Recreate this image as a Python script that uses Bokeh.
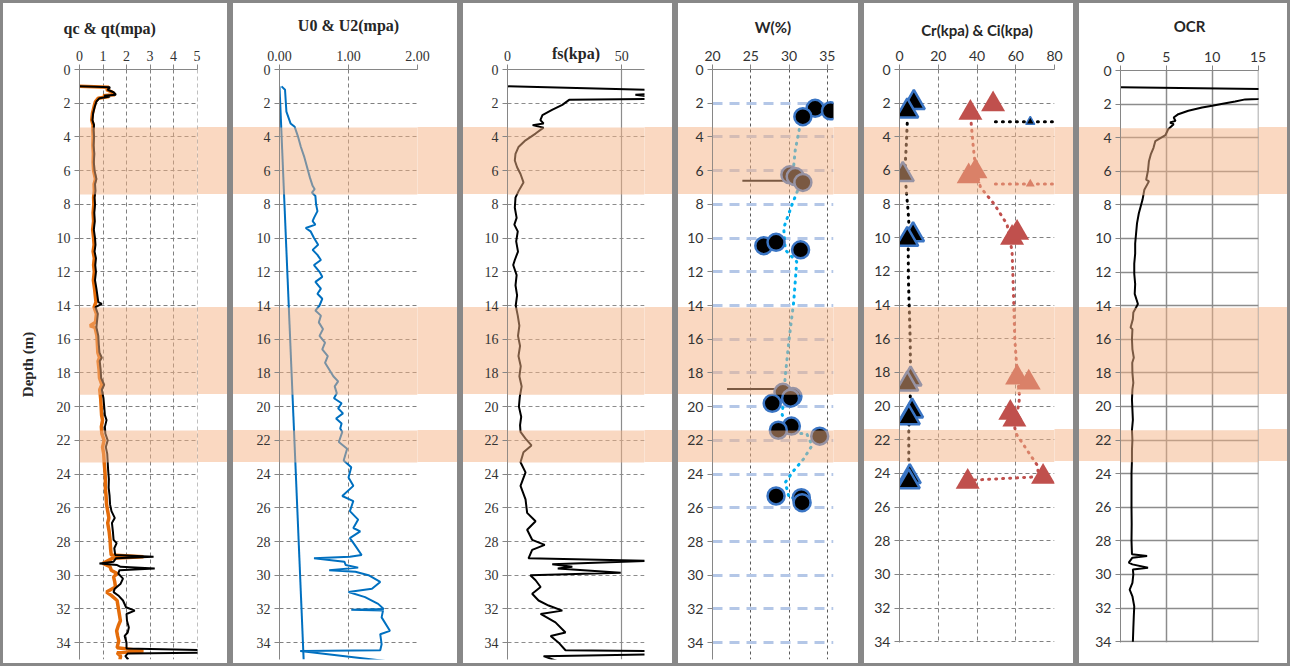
from bokeh.plotting import figure
from bokeh.models import Range1d, FixedTicker, PrintfTickFormatter, BoxAnnotation
from bokeh.layouts import row
from bokeh.embed import file_html
from bokeh.resources import INLINE

# ---------------- data ----------------
depth_ticks = list(range(0, 35, 2))
band_depths = [(3.44, 7.42), (14.12, 19.29), (21.42, 23.32)]

qc_ticks = [0, 1, 2, 3, 4, 5]
u_ticks = [0, 1, 2]
fs_ticks = [0, 50]
w_ticks = [20, 25, 30, 35]
c_ticks = [0, 20, 40, 60, 80]
ocr_ticks = [0, 5, 10, 15]

# (value, depth)
qt = [(0.0, 1.0), (1.3, 1.05), (1.2, 1.2), (1.45, 1.35), (1.55, 1.5), (1.05, 1.55), (1.3, 1.6),
      (0.85, 1.7), (0.72, 1.9), (0.65, 2.2), (0.58, 2.6), (0.55, 3.0), (0.62, 3.3), (0.6, 3.6),
      (0.62, 4.0), (0.6, 4.5), (0.63, 5.0), (0.61, 5.5), (0.64, 6.0), (0.72, 6.5), (0.66, 6.8),
      (0.68, 7.2), (0.64, 7.6), (0.66, 8.0), (0.63, 8.5), (0.65, 9.0), (0.61, 9.5), (0.66, 10.0),
      (0.68, 10.4), (0.64, 10.8), (0.7, 11.2), (0.67, 11.6), (0.7, 12.0), (0.66, 12.5), (0.72, 13.0),
      (0.76, 13.4), (0.8, 13.8), (0.95, 13.9), (0.68, 14.1), (0.78, 14.5), (0.74, 15.0), (0.72, 15.3),
      (0.8, 15.8), (0.82, 16.3), (0.85, 16.8), (0.95, 17.1), (0.86, 17.3), (0.9, 17.8), (0.92, 18.3),
      (1.05, 18.7), (0.95, 19.0), (1.02, 19.5), (1.05, 20.0), (1.08, 20.5), (1.15, 20.8), (1.08, 21.2),
      (1.1, 21.6), (1.2, 22.0), (1.12, 22.4), (1.18, 22.8), (1.2, 23.3), (1.22, 23.8), (1.25, 24.3),
      (1.24, 24.8), (1.28, 25.3), (1.3, 25.8), (1.36, 26.2), (1.5, 26.6), (1.38, 26.9), (1.42, 27.4),
      (1.45, 27.9), (1.58, 28.1), (1.48, 28.4), (1.52, 28.8), (3.15, 28.9), (1.55, 29.0), (1.45, 29.2),
      (0.85, 29.3), (1.6, 29.4), (1.75, 29.5), (3.2, 29.6), (1.7, 29.7), (1.65, 29.9), (1.85, 30.2),
      (1.75, 30.5), (1.5, 30.8), (1.45, 31.0), (1.65, 31.2), (1.85, 31.5), (1.98, 31.9), (2.35, 32.1),
      (2.0, 32.3), (2.02, 32.7), (2.1, 33.1), (2.05, 33.4), (1.92, 33.6), (2.0, 34.0), (2.0, 34.35),
      (5.5, 34.45), (5.5, 34.6), (2.05, 34.65), (1.95, 34.8), (2.08, 35.0)]

qc = [(0.0, 1.0), (1.25, 1.05), (1.15, 1.2), (1.4, 1.35), (1.5, 1.5), (1.0, 1.55), (1.25, 1.6),
      (0.8, 1.7), (0.68, 1.9), (0.62, 2.2), (0.55, 2.6), (0.52, 3.0), (0.58, 3.3), (0.57, 3.6),
      (0.58, 4.0), (0.57, 4.5), (0.59, 5.0), (0.58, 5.5), (0.6, 6.0), (0.68, 6.5), (0.62, 6.8),
      (0.63, 7.2), (0.6, 7.6), (0.61, 8.0), (0.58, 8.5), (0.6, 9.0), (0.56, 9.5), (0.6, 10.0),
      (0.62, 10.4), (0.58, 10.8), (0.63, 11.2), (0.6, 11.6), (0.63, 12.0), (0.59, 12.5), (0.64, 13.0),
      (0.67, 13.4), (0.7, 13.8), (0.62, 14.1), (0.72, 14.5), (0.68, 15.0), (0.45, 15.2), (0.66, 15.3),
      (0.74, 15.8), (0.76, 16.3), (0.78, 16.8), (0.85, 17.1), (0.79, 17.3), (0.83, 17.8), (0.85, 18.3),
      (0.95, 18.7), (0.86, 19.0), (0.9, 19.5), (0.92, 20.0), (0.94, 20.5), (0.98, 20.8), (0.93, 21.2),
      (0.95, 21.6), (1.05, 22.0), (0.98, 22.4), (1.03, 22.8), (1.05, 23.3), (1.08, 23.8), (1.1, 24.3),
      (1.1, 24.8), (1.13, 25.3), (1.15, 25.8), (1.2, 26.2), (1.25, 26.6), (1.2, 26.9), (1.26, 27.4),
      (1.3, 27.9), (1.32, 28.4), (1.35, 28.8), (2.72, 28.9), (1.4, 29.0), (1.0, 29.3), (1.3, 29.5),
      (1.35, 29.7), (1.6, 29.9), (1.45, 30.1), (1.5, 30.4), (1.53, 30.7), (1.15, 31.0), (1.35, 31.2),
      (1.6, 31.5), (1.67, 32.1), (1.74, 32.7), (1.65, 33.0), (1.58, 33.3), (1.62, 33.6), (1.67, 33.9),
      (1.6, 34.3), (2.72, 34.5), (1.6, 34.6), (1.75, 34.8), (1.72, 35.0)]

u2 = [(0.03, 1.0), (0.08, 1.2), (0.1, 2.5), (0.16, 3.2), (0.22, 3.4), (0.27, 4.0), (0.31, 4.6),
      (0.36, 5.2), (0.4, 5.8), (0.44, 6.4), (0.48, 6.9), (0.51, 7.1), (0.47, 7.3), (0.52, 7.5),
      (0.53, 8.0), (0.55, 8.4), (0.5, 8.8), (0.48, 9.0), (0.52, 9.2), (0.38, 9.4), (0.45, 9.6),
      (0.5, 10.0), (0.56, 10.4), (0.48, 10.7), (0.55, 11.0), (0.6, 11.3), (0.5, 11.6), (0.58, 12.0),
      (0.62, 12.3), (0.52, 12.6), (0.6, 13.0), (0.55, 13.3), (0.62, 13.6), (0.58, 14.0), (0.52, 14.3),
      (0.6, 14.6), (0.57, 15.0), (0.63, 15.4), (0.58, 15.8), (0.66, 16.2), (0.62, 16.6), (0.7, 17.0),
      (0.66, 17.4), (0.72, 17.8), (0.78, 18.2), (0.85, 18.5), (0.8, 18.8), (0.83, 19.2), (0.79, 19.5),
      (0.9, 19.8), (0.85, 20.1), (0.92, 20.4), (0.82, 20.7), (0.9, 21.0), (0.88, 21.3), (0.91, 21.5),
      (0.86, 22.1), (0.98, 22.5), (0.93, 23.2), (1.04, 23.6), (1.0, 24.2), (1.07, 24.7), (0.91, 25.3),
      (1.07, 25.6), (1.02, 26.2), (1.14, 26.7), (1.07, 27.2), (1.17, 27.4), (1.02, 27.8), (1.09, 28.2),
      (1.19, 28.8), (1.02, 28.9), (0.5, 29.0), (0.94, 29.2), (0.96, 29.4), (1.14, 29.55), (0.72, 29.7),
      (1.1, 29.8), (1.29, 30.0), (1.46, 30.4), (1.34, 30.8), (1.0, 31.0), (1.24, 31.3), (1.43, 31.7),
      (1.51, 32.0), (1.04, 32.05), (1.5, 32.1), (1.48, 32.5), (1.6, 33.3), (1.46, 33.5), (1.48, 34.1),
      (1.46, 34.45), (0.3, 34.5), (1.56, 35.1)]
u0 = [(0.0, 1.0), (0.35, 35.0)]

fs = [(0, 1.0), (62, 1.2), (62, 1.45), (56, 1.5), (62, 1.6), (62, 1.75), (27, 1.8), (24, 2.1),
      (19.5, 2.4), (15.3, 2.7), (14.4, 3.0), (15.8, 3.2), (11, 3.3), (15.8, 3.45), (12.3, 3.8),
      (7.9, 4.2), (4.8, 4.6), (3.5, 5.0), (3.2, 5.4), (4.2, 5.8), (5.7, 6.2), (7.0, 6.7), (4.9, 7.2),
      (3.5, 7.6), (3.2, 8.2), (4.0, 8.8), (3.0, 9.2), (4.5, 9.6), (3.8, 10.2), (4.6, 10.8), (3.2, 11.3),
      (2.5, 11.6), (4.0, 12.2), (3.5, 12.8), (4.2, 13.4), (3.6, 14.0), (4.5, 14.6), (5.2, 15.2),
      (4.6, 15.8), (5.5, 16.4), (4.8, 17.0), (5.8, 17.6), (5.2, 18.2), (6.2, 18.8), (5.4, 19.4),
      (5.0, 20.0), (6.0, 20.6), (5.5, 21.1), (5.7, 21.5), (7.9, 21.9), (10.5, 22.3), (7.0, 22.7),
      (5.7, 23.3), (7.9, 23.9), (5.7, 24.7), (7.9, 25.5), (8.6, 26.3), (12.3, 26.8), (8.6, 27.3),
      (10.8, 27.9), (16.3, 28.2), (10.8, 28.5), (9.2, 29.0), (62, 29.15), (19.6, 29.35), (28.4, 29.5),
      (22, 29.6), (49.6, 29.85), (10, 30.0), (12.3, 30.3), (14.5, 30.7), (10.8, 31.1), (13.6, 31.5),
      (18, 31.8), (24, 32.1), (14.5, 32.3), (21, 32.8), (25.4, 33.4), (18.9, 33.6), (22.4, 34.0),
      (25.4, 34.45), (62, 34.5), (62, 34.7), (15.8, 34.8), (24, 35.2)]

w_points = [(33.4, 2.3), (35.4, 2.45), (31.8, 2.8), (30.1, 6.25), (30.8, 6.35), (31.8, 6.7),
            (26.7, 10.45), (28.3, 10.25), (31.5, 10.7), (29.2, 19.15), (30.5, 19.4), (27.8, 19.8),
            (30.2, 19.5), (30.3, 21.15), (28.6, 21.4), (34.0, 21.75), (28.3, 25.3), (31.6, 25.4),
            (31.7, 25.7)]
w_trend = [(31.5, 3.15), (30.8, 4.8), (30.5, 6.2), (31.1, 7.2), (30.4, 8.0), (29.3, 9.4), (29.5, 10.7),
           (31.0, 11.4), (30.6, 13.8), (30.0, 16.0), (29.5, 18.2), (29.1, 20.5), (31.1, 21.6),
           (32.3, 21.6), (33.0, 22.3), (31.9, 23.1), (30.6, 23.8), (29.5, 24.5), (30.0, 25.4), (31.2, 25.4)]
w_bar_a = [(23.9, 6.6), (30.0, 6.6)]
w_bar_b = [(21.9, 18.96), (28.3, 18.96)]

cr_points = [(7.4, 1.97), (4.0, 2.47), (1.7, 6.25), (7.0, 9.83), (4.0, 10.1), (5.7, 18.4), (4.0, 18.7),
             (6.5, 20.3), (4.8, 20.7), (5.3, 24.2), (4.8, 24.5)]
ci_points = [(36.6, 2.57), (48.3, 2.07), (35.7, 6.35), (39.2, 6.05), (58.1, 10.0), (60.7, 9.7),
             (60.7, 18.3), (66.7, 18.6), (57.2, 20.4), (59.3, 20.8), (74.1, 24.2), (35.2, 24.5)]
cr_trend = [(4.0, 3.2), (3.5, 4.5), (2.8, 6.0), (3.5, 7.2), (4.5, 8.5), (5.0, 9.5), (4.5, 10.7),
            (4.6, 12.5), (5.0, 14.0), (5.5, 16.0), (5.7, 18.2), (5.5, 20.0), (4.8, 21.3), (4.8, 23.5)]
ci_trend = [(37.0, 3.2), (38.0, 4.5), (39.2, 5.8), (41.8, 7.0), (48.9, 8.0), (55.5, 9.2), (58.1, 10.8),
            (58.6, 12.5), (59.0, 14.0), (59.5, 16.0), (60.7, 18.0), (62.0, 19.5), (59.5, 21.3),
            (60.5, 21.7), (71.0, 23.5), (72.0, 24.2), (38.0, 24.4)]
cr_bar = [(49.5, 3.1), (83.0, 3.1)]
ci_bar = [(49.5, 6.8), (83.0, 6.8)]
cr_mark = [(67.5, 3.1)]
ci_mark = [(67.5, 6.8)]

ocr = [(0, 1.0), (16, 1.1), (16, 1.65), (15, 1.7), (13.6, 1.72), (12.5, 1.85), (11.0, 2.0), (10.0, 2.1),
       (8.9, 2.2), (7.4, 2.4), (6.3, 2.6), (5.8, 2.8), (6.0, 3.0), (5.4, 3.1), (5.8, 3.2), (5.2, 3.5),
       (4.9, 3.85), (3.8, 4.2), (3.6, 4.6), (3.3, 5.0), (3.1, 5.4), (3.0, 5.95), (2.8, 6.5), (3.1, 6.6),
       (2.6, 7.1), (2.4, 7.7), (2.0, 8.5), (1.8, 9.1), (1.7, 9.7), (1.6, 10.3), (1.6, 10.9), (1.5, 11.5),
       (1.5, 12.1), (1.6, 12.7), (1.55, 13.3), (1.9, 13.9), (1.4, 14.4), (1.35, 14.8), (1.1, 15.3),
       (1.3, 15.4), (1.25, 16.0), (1.3, 16.6), (1.45, 17.1), (1.28, 17.4), (1.3, 18.0), (1.4, 18.6),
       (1.3, 19.0), (1.25, 19.6), (1.3, 20.2), (1.35, 20.8), (1.25, 21.4), (1.3, 22.0), (1.25, 22.6),
       (1.25, 23.2), (1.2, 24.0), (1.2, 25.0), (1.2, 26.0), (1.22, 27.0), (1.2, 28.0), (1.25, 28.8),
       (2.9, 28.9), (1.3, 29.0), (0.9, 29.3), (1.3, 29.4), (3.0, 29.6), (1.35, 29.7), (1.4, 30.0),
       (1.3, 30.5), (1.0, 30.9), (1.3, 31.3), (1.5, 31.9), (1.45, 32.5), (1.4, 33.2), (1.35, 34.0)]

# ---------------- styling / layout ----------------
H = 666
TOP = 69
SERIF = "Liberation Serif"
SANS = "Lato"
TXT = "#333333"
AX = "#868686"
BAND_RGBA = "rgb(250,216,193)"


def xs(pairs):
    return [a for a, b in pairs]


def ys(pairs):
    return [b for a, b in pairs]


def band_styles(W, L, B, ymax, from_axis):
    fh = H - TOP - B
    stops = ["rgba(255,255,255,0) 0px"]
    for b0, b1 in band_depths:
        y0 = TOP + b0 / ymax * fh
        y1 = TOP + b1 / ymax * fh
        stops += [f"rgba(255,255,255,0) {y0:.1f}px", f"{BAND_RGBA} {y0:.1f}px",
                  f"{BAND_RGBA} {y1:.1f}px", f"rgba(255,255,255,0) {y1:.1f}px"]
    st = {
        "background-image": "linear-gradient(to bottom, " + ", ".join(stops) + ")",
        "background-repeat": "no-repeat",
        "background-size": f"{(W - L) if from_axis else W}px {H}px",
        "background-position": "right top",
        "outline": "3px solid #888888",
        "outline-offset": "-3px",
    }
    return st


def panel(W, L, R, B, xr, ymax, xticks, font, fmt=None, band_from_axis=False):
    p = figure(width=W, height=H, x_range=Range1d(*xr), y_range=Range1d(ymax, 0),
               x_axis_location="above", output_backend="svg", toolbar_location=None,
               min_border_left=L, min_border_right=R, min_border_top=TOP, min_border_bottom=B,
               frame_align=False, styles=band_styles(W, L, B, ymax, band_from_axis))
    p.outline_line_color = None
    p.background_fill_color = "white"
    p.border_fill_color = None
    for ax, ticks in ((p.xaxis[0], xticks), (p.yaxis[0], depth_ticks)):
        ax.ticker = FixedTicker(ticks=ticks)
        ax.major_label_text_font = font
        ax.major_label_text_font_size = "14px"
        ax.major_label_text_color = TXT
        ax.axis_line_color = AX
        ax.major_tick_line_color = AX
        ax.major_tick_in = 0
        ax.major_tick_out = 5
        ax.minor_tick_line_color = None
        ax.major_label_standoff = 4
    if fmt:
        p.xaxis[0].formatter = PrintfTickFormatter(format=fmt)
    return p


def finish(p, title, tfont, tsize, standoff=10, align="center", offset=0):
    if title:
        p.title.text = title
        p.title.align = align
        p.title.offset = offset
        p.title.standoff = standoff
        p.title.text_font = tfont
        p.title.text_font_size = tsize
        p.title.text_font_style = "bold"
        p.title.text_color = "#262626"
    for b0, b1 in band_depths:
        p.add_layout(BoxAnnotation(top=b0, bottom=b1, fill_color="#F4B183", fill_alpha=0.5,
                                   line_color=None))


def dashed_grid(p, color="#808080"):
    for g in (p.xgrid[0], p.ygrid[0]):
        g.grid_line_color = color
        g.grid_line_dash = "4 3"
        g.grid_line_width = 1


# Panel 1: qc & qt
p1 = panel(230, 79, 33, 7, (0, 5.02), 35, qc_ticks, SERIF, band_from_axis=True)
dashed_grid(p1)
p1.yaxis[0].axis_label = "Depth (m)"
p1.yaxis[0].axis_label_text_font = SERIF
p1.yaxis[0].axis_label_text_font_style = "bold"
p1.yaxis[0].axis_label_text_font_size = "15px"
p1.yaxis[0].axis_label_text_color = "#262626"
p1.yaxis[0].axis_label_standoff = 18
p1.line(xs(qc), ys(qc), line_color="#E46C0A", line_width=3.5)
p1.line(xs(qt), ys(qt), line_color="black", line_width=2)
finish(p1, "qc & qt(mpa)", SERIF, "16px", standoff=22, align="left", offset=-16)

# Panel 2: U0 & U2
p2 = panel(230, 49, 43, 7, (0, 2.0), 35, u_ticks, SERIF, fmt="%.2f")
dashed_grid(p2)
p2.line(xs(u0), ys(u0), line_color="#0070C0", line_width=2)
p2.line(xs(u2), ys(u2), line_color="#0070C0", line_width=2)
finish(p2, "U0 & U2(mpa)", SERIF, "16px", standoff=27)

# Panel 3: fs
p3 = panel(215, 47, 31, 7, (0, 60), 35, fs_ticks, SERIF)
p3.xgrid[0].grid_line_color = "#8c8c8c"
p3.xgrid[0].grid_line_width = 1.2
p3.ygrid[0].grid_line_color = "#8c8c8c"
p3.ygrid[0].grid_line_dash = "4 3"
p3.xaxis[0].axis_label = "fs(kpa)"
p3.xaxis[0].axis_label_text_font = SERIF
p3.xaxis[0].axis_label_text_font_style = "bold"
p3.xaxis[0].axis_label_text_font_size = "16px"
p3.xaxis[0].axis_label_text_color = "#262626"
p3.xaxis[0].axis_label_standoff = -14
p3.line(xs(fs), ys(fs), line_color="black", line_width=2)
finish(p3, None, SERIF, "16px")

# Panel 4: W(%)
p4 = panel(186, 37, 28, 7, (20, 35.8), 35, w_ticks, SANS)
p4.xgrid[0].grid_line_color = "#595959"
p4.xgrid[0].grid_line_dash = "3 3"
p4.ygrid[0].grid_line_color = "#B4C7E7"
p4.ygrid[0].grid_line_width = 3
p4.ygrid[0].grid_line_dash = "10 7"
p4.line(xs(w_trend), ys(w_trend), line_color="#00B0F0", line_width=3, line_dash="1 6", line_cap="round")
for bar in (w_bar_a, w_bar_b):
    p4.line(xs(bar), ys(bar), line_color="black", line_width=2)
p4.scatter(xs(w_points), ys(w_points), marker="circle", size=17, fill_color="black",
           line_color="#3A75C4", line_width=2.5)
finish(p4, "W(%)", SANS, "15px", standoff=24)

# Panel 5: Cr & Ci
p5 = panel(215, 38, 22, 24, (0, 80), 34.05, c_ticks, SANS)
dashed_grid(p5)
p5.line(xs(cr_trend), ys(cr_trend), line_color="black", line_width=3, line_dash="1 6", line_cap="round")
p5.line(xs(ci_trend), ys(ci_trend), line_color="#C0504D", line_width=3, line_dash="1 6", line_cap="round")
p5.line(xs(cr_bar), ys(cr_bar), line_color="black", line_width=3, line_dash="1 6", line_cap="round")
p5.line(xs(ci_bar), ys(ci_bar), line_color="#C0504D", line_width=3, line_dash="1 6", line_cap="round")
p5.scatter(xs(cr_mark), ys(cr_mark), marker="triangle", size=9, fill_color="black",
           line_color="#3A75C4", line_width=1.5)
p5.scatter(xs(ci_mark), ys(ci_mark), marker="triangle", size=9, fill_color="#C0504D", line_color=None)
p5.scatter(xs(ci_points), ys(ci_points), marker="triangle", size=24, fill_color="#C0504D", line_color=None)
p5.scatter(xs(cr_points), ys(cr_points), marker="triangle", size=22, fill_color="black",
           line_color="#3A75C4", line_width=2.5)
finish(p5, "Cr(kpa) & Ci(kpa)", SANS, "15px", standoff=18)

# Panel 6: OCR
p6 = panel(214, 44, 32, 24, (0, 15.05), 34.05, ocr_ticks, SANS)
for g in (p6.xgrid[0], p6.ygrid[0]):
    g.grid_line_color = "#8c8c8c"
    g.grid_line_width = 1.5
p6.line(xs(ocr), ys(ocr), line_color="black", line_width=2)
finish(p6, "OCR", SANS, "15px", standoff=28)

layout = row(p1, p2, p3, p4, p5, p6, spacing=0)
open("out.html", "w").write(file_html(layout, INLINE))
